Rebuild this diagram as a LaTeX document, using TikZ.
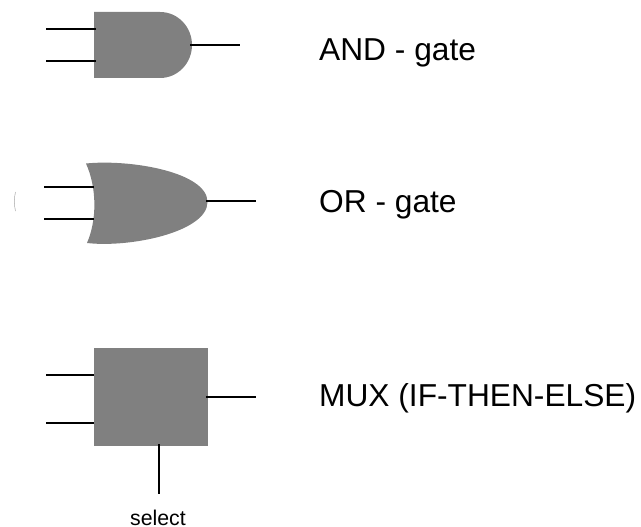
\documentclass[tikz,border=0pt]{standalone}
\usepackage{fontspec}
\setmainfont{Liberation Sans}
\tikzset{
  px/.style={x=1pt,y=-1pt},
  gatefill/.style={fill=gategray,draw=none},
  wire/.style={draw=black,line width=1.3pt},
  biglabel/.style={anchor=base west,inner sep=0pt,font=\fontsize{31.7}{36}\selectfont},
  smalllabel/.style={anchor=base,inner sep=0pt,font=\fontsize{21.3}{25}\selectfont}
}
\definecolor{gategray}{gray}{0.5}
\begin{document}
\begin{tikzpicture}[px]
\useasboundingbox (0,0) rectangle (641,527);
% AND gate
\path[gatefill] (94,12) -- (160,12) .. controls (178,12) and (192,27) .. (192,45) .. controls (192,63) and (178,78) .. (160,78) -- (94,78) -- cycle;
\coordinate (andA) at (96,29); \coordinate (andB) at (96,61); \coordinate (andO) at (190,45);
\coordinate (andA0) at (46,29); \coordinate (andB0) at (46,61); \coordinate (andO1) at (240,45);
\draw[wire] (andA0) -- (andA);
\draw[wire] (andB0) -- (andB);
\draw[wire] (andO) -- (andO1);
\node[biglabel] (andT) at (319,60.5) {AND - gate};
% OR gate
\path[gatefill] (86,163.5) .. controls (130,159) and (207.5,172) .. (207.5,202) .. controls (207.5,232) and (130,248) .. (87,243) .. controls (97,220) and (97,188) .. (86,163.5) -- cycle;
\coordinate (orA) at (94,187); \coordinate (orB) at (94,219); \coordinate (orO) at (206,201);
\coordinate (orA0) at (44,187); \coordinate (orB0) at (44,219); \coordinate (orO1) at (256,201);
\draw[wire] (orA0) -- (orA);
\draw[wire] (orB0) -- (orB);
\draw[wire] (orO) -- (orO1);
\draw[gategray!70,line width=0.5pt] (15.5,192) .. controls (14,198) and (14,205) .. (15.5,211);
\node[biglabel] (orT) at (319,212) {OR - gate};
% MUX
\path[gatefill] (94,348) rectangle (208,446);
\coordinate (muxA) at (94,375); \coordinate (muxB) at (94,423); \coordinate (muxO) at (206,397); \coordinate (muxS) at (159,444);
\coordinate (muxA0) at (46,375); \coordinate (muxB0) at (46,423); \coordinate (muxO1) at (256,397); \coordinate (muxS1) at (159,494);
\draw[wire] (muxA0) -- (muxA);
\draw[wire] (muxB0) -- (muxB);
\draw[wire] (muxO) -- (muxO1);
\draw[wire] (muxS) -- (muxS1);
\node[biglabel] (muxT) at (319,406) {MUX (IF-THEN-ELSE)};
\node[smalllabel] (selT) at (158,525) {select};
\end{tikzpicture}
\end{document}
